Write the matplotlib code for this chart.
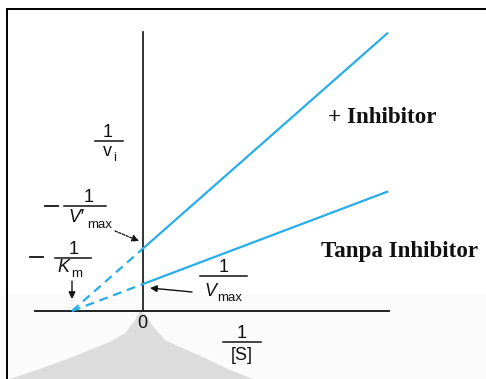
import matplotlib
matplotlib.use("Agg")
import matplotlib.pyplot as plt
from matplotlib.patches import Polygon, Rectangle
from matplotlib.lines import Line2D

# Lineweaver-Burk plot: 1/v_i against 1/[S]
inv_s = [-1.0, 0.0, 3.44]            # -1/Km, y-axis, right end of lines
inv_v_inhibitor = [0.0, 0.88, 3.91]  # with inhibitor (intercept 1/V'max)
inv_v_none = [0.0, 0.38, 1.68]       # without inhibitor (intercept 1/Vmax)
x_axis_span = [-1.52, 3.465]
y_axis_span = [0.0, 3.93]

W, H = 486, 379
fig = plt.figure(figsize=(W / 100, H / 100), dpi=100, facecolor="white")
ax = fig.add_axes([0, 0, 1, 1])
unit = 71.0
ox, oy = 143.0, 311.0
ax.set_xlim(-ox / unit, (W - ox) / unit)
ax.set_ylim((oy - H) / unit, oy / unit)
ax.set_xticks([])
ax.set_yticks([])
ax.patch.set_visible(False)


def at(x, y):
    return (x / W, 1 - y / H)


# faint band and watermark in the lower part
ax.add_patch(Rectangle(at(0, H), 1, (H - 294) / H, transform=ax.transAxes,
                       facecolor="#fbfbfb", edgecolor="none", zorder=0))
left_edge = [(140, 311), (134, 322), (125, 333), (110, 342), (97, 347),
             (70, 358), (37, 370), (10, 379)]
right_edge = [(253, 379), (230, 370), (205, 358), (180, 347), (165, 340),
              (152, 325), (146, 315)]
ax.add_patch(Polygon([at(*p) for p in left_edge + right_edge],
                     closed=True, transform=ax.transAxes,
                     facecolor="#dcdcdc", edgecolor="none", zorder=0.5))

# outer frame: a box whose right and bottom sides fall outside the canvas
ink = "#111111"
fig.add_artist(Rectangle((7 / W, -0.5), 2.0, 0.5 + 1 - 9 / H, fill=False,
                         edgecolor="black", lw=1.4,
                         transform=fig.transFigure))

# axes through the origin
for side in ("top", "right"):
    ax.spines[side].set_visible(False)
ax.spines["left"].set_position(("data", 0))
ax.spines["left"].set_bounds(*y_axis_span)
ax.spines["bottom"].set_position(("data", 0))
ax.spines["bottom"].set_bounds(*x_axis_span)
ax.spines["left"].set_linewidth(1.2)
ax.spines["bottom"].set_linewidth(1.4)
ax.spines["left"].set_color(ink)
ax.spines["bottom"].set_color("#222222")

blue = "#27aee8"
for ys in (inv_v_inhibitor, inv_v_none):
    ax.plot(inv_s[:2], ys[:2], color=blue, lw=1.6, ls=(0, (4, 2.6)),
            solid_capstyle="butt", zorder=3)
    ax.plot(inv_s[1:], ys[1:], color=blue, lw=1.6, zorder=3)

sans = "Liberation Sans"
serif = "Liberation Serif"
tk = dict(transform=ax.transAxes, family=sans, color=ink)
big, small = 13, 9.5


def bar(x0, x1, y, lw=1.1):
    ax.add_artist(Line2D([x0 / W, x1 / W], [1 - y / H, 1 - y / H],
                         color=ink, lw=lw, transform=ax.transAxes))


head = "-|>,head_length=0.4,head_width=0.2"

# 1 / v_i
ax.text(*at(108, 133), "1", ha="center", va="center", size=big, **tk)
bar(95, 123, 141)
ax.text(*at(107, 152), "v", ha="center", va="center", size=big, **tk)
ax.text(*at(115, 158), "i", ha="center", va="center", size=small, **tk)

# - 1 / V'max
bar(45, 58, 206, lw=1.3)
ax.text(*at(88.5, 197), "1", ha="center", va="center", size=big, **tk)
bar(64, 106, 206)
ax.text(*at(68, 217), "V\u2032", ha="left", va="center", size=big,
        style="italic", **tk)
ax.text(*at(87, 225), "max", ha="left", va="center", size=small, **tk)
ax.annotate("", xy=at(139, 241), xytext=at(115, 231),
            xycoords="axes fraction", textcoords="axes fraction",
            arrowprops=dict(arrowstyle=head, color=ink, lw=0.9,
                            ls=(0, (2, 1.2)), shrinkA=0, shrinkB=0))

# - 1 / Km
bar(30, 43, 257, lw=1.3)
ax.text(*at(73.5, 249), "1", ha="center", va="center", size=big, **tk)
bar(55, 91, 258)
ax.text(*at(57, 268), "K", ha="left", va="center", size=big,
        style="italic", **tk)
ax.text(*at(71, 274), "m", ha="left", va="center", size=small, **tk)
ax.annotate("", xy=at(72, 299), xytext=at(72, 281),
            xycoords="axes fraction", textcoords="axes fraction",
            arrowprops=dict(arrowstyle=head, color=ink, lw=1.0,
                            shrinkA=0, shrinkB=0))

# 1 / Vmax
ax.text(*at(224, 267), "1", ha="center", va="center", size=big, **tk)
bar(200, 247, 276)
ax.text(*at(204, 292), "V", ha="left", va="center", size=big,
        style="italic", **tk)
ax.text(*at(217, 298), "max", ha="left", va="center", size=small, **tk)
ax.annotate("", xy=at(150, 288), xytext=at(192, 292),
            xycoords="axes fraction", textcoords="axes fraction",
            arrowprops=dict(arrowstyle=head, color=ink, lw=1.0,
                            shrinkA=0, shrinkB=0))

# origin and x-axis label
ax.text(*at(142.5, 323), "0", ha="center", va="center", size=big, **tk)
ax.text(*at(242, 333), "1", ha="center", va="center", size=big, **tk)
bar(223, 261, 342)
ax.text(*at(242, 355), "[S]", ha="center", va="center", size=big, **tk)

# series labels
ax.text(*at(328, 123), "+ Inhibitor", ha="left", va="baseline",
        size=16.6, weight="bold", family=serif, color=ink,
        transform=ax.transAxes)
ax.text(*at(321, 257), "Tanpa Inhibitor", ha="left", va="baseline",
        size=16.6, weight="bold", family=serif, color=ink,
        transform=ax.transAxes)

fig.savefig("out.png", dpi=100, facecolor="white")
